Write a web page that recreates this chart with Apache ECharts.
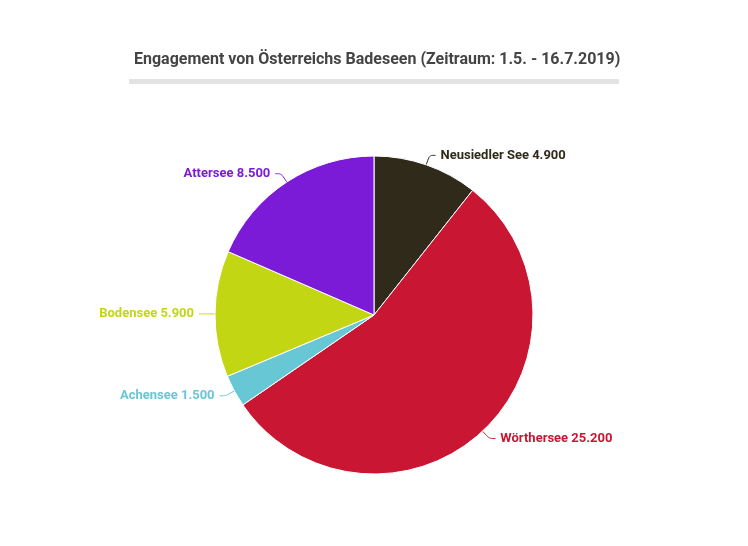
<!DOCTYPE html>
<html>
<head>
<meta charset="utf-8">
<script src="https://cdn.jsdelivr.net/npm/echarts@6/dist/echarts.min.js"></script>
<style>
  body{margin:0;background:#fff;}
  #chart{width:748px;height:546px;}
</style>
</head>
<body>
<div id="chart"></div>
<script>
const lakes = ['Neusiedler See', 'Wörthersee', 'Achensee', 'Bodensee', 'Attersee'];
const values = [4900, 25200, 1500, 5900, 8500];
const colors = ['#302a1b', '#c91733', '#68c7d4', '#c3d614', '#7b1bd7'];

function fmt(v){
  return String(v).replace(/\B(?=(\d{3})+(?!\d))/g, '.');
}

const myChart = echarts.init(document.getElementById('chart'));
const option = {
  animation: false,
  title: {
    text: 'Engagement von Österreichs Badeseen (Zeitraum: 1.5. - 16.7.2019)',
    left: 129,
    top: 47,
    textStyle: {fontFamily: 'Roboto', fontSize: 16, fontWeight: 'bold', color: '#444'}
  },
  graphic: [{
    type: 'rect',
    shape: {x: 129, y: 79, width: 490, height: 5},
    style: {fill: '#e3e3e3'}
  }],
  series: [{
    type: 'pie',
    center: [374, 315],
    radius: 159,
    startAngle: 90,
    clockwise: true,
    data: lakes.map((n, i) => ({
      name: n, value: values[i],
      itemStyle: {color: colors[i]},
      label: {color: colors[i]},
      labelLine: {lineStyle: {color: colors[i]}}
    })),
    itemStyle: {borderColor: '#fff', borderWidth: 1},
    label: {
      formatter: p => p.name + ' ' + fmt(p.value),
      fontFamily: 'Roboto', fontSize: 13, fontWeight: 'bold'
    },
    labelLine: {length: 10, length2: 6, smooth: true}
  }]
};
myChart.setOption(option);
</script>
</body>
</html>
